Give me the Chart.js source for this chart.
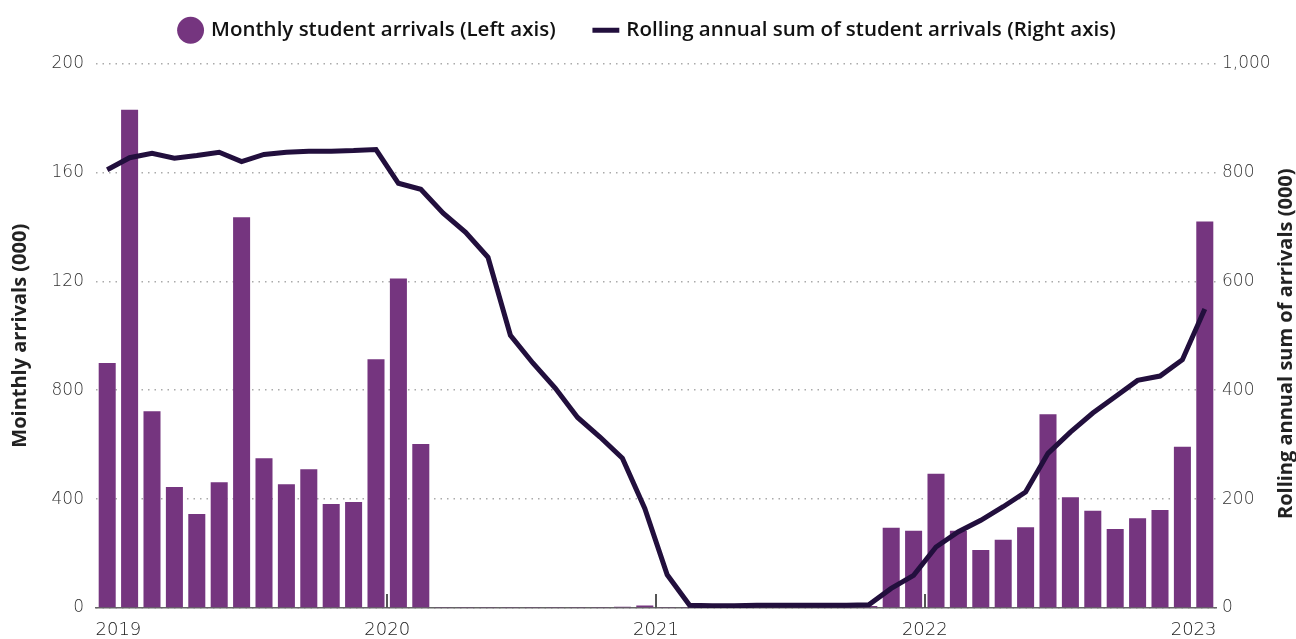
<!DOCTYPE html>
<html><head><meta charset="utf-8">
<script src="https://cdn.jsdelivr.net/npm/chart.js@4.4.0/dist/chart.umd.min.js"></script>
<style>html,body{margin:0;padding:0;background:#fff}#wrap{width:1296px;height:639px;position:relative}</style>
</head><body><div id="wrap"><canvas id="c"></canvas></div>
<script>
// Months (bars are centred in each month; year ticks sit on 1 January)
const months = [
  'Dec 2018',
  'Jan 2019','Feb 2019','Mar 2019','Apr 2019','May 2019','Jun 2019','Jul 2019','Aug 2019','Sep 2019','Oct 2019','Nov 2019','Dec 2019',
  'Jan 2020','Feb 2020','Mar 2020','Apr 2020','May 2020','Jun 2020','Jul 2020','Aug 2020','Sep 2020','Oct 2020','Nov 2020','Dec 2020',
  'Jan 2021','Feb 2021','Mar 2021','Apr 2021','May 2021','Jun 2021','Jul 2021','Aug 2021','Sep 2021','Oct 2021','Nov 2021','Dec 2021',
  'Jan 2022','Feb 2022','Mar 2022','Apr 2022','May 2022','Jun 2022','Jul 2022','Aug 2022','Sep 2022','Oct 2022','Nov 2022','Dec 2022',
  'Jan 2023'
];
// Monthly student arrivals (000), left axis
const monthlyArrivals = [
  90, 183, 72.3, 44.4, 34.5, 46.2, 143.5, 55, 45.5, 51, 38.2, 38.9,
  91.4, 121, 60.2,
  0.4, 0.4, 0.4, 0.4, 0.4, 0.4, 0.4, 0.4, 0.5, 0.9,
  0.4, 0.4, 0.4, 0.4, 0.4, 0.4, 0.4, 0.4, 0.5, 0.7,
  29.5, 28.4, 49.3, 28.4, 21.3, 25.1, 29.7, 71.2, 40.7, 35.7, 29.0, 33.0, 36.0, 59.2, 142.0
];
// Rolling annual sum of student arrivals (000), right axis
const rollingSum = [
  805, 827, 835, 826, 831, 837, 820, 833, 837, 839, 839, 840,
  842, 780, 769, 725, 690, 644, 501, 450, 404, 350, 314, 275,
  183, 61, 5, 4, 4, 5, 5, 5, 5, 5, 6, 36,
  60, 112, 140, 161, 186, 213, 284, 323, 358, 388, 418, 426,
  456, 549
];
// Year tick labels and their positions (between Dec and Jan)
const yearLabels = ['2019', '2020', '2021', '2022', '2023'];
const yearTickPos = [0.5, 12.5, 24.5, 36.5, 48.5];
const markedYears = ['2020', '2021', '2022'];
// Left axis tick labels, as printed in the original
const leftTickLabels = ['0', '400', '800', '120', '160', '200'];
const leftTickValues = [0, 40, 80, 120, 160, 200];
const rightTickValues = [0, 200, 400, 600, 800, 1000];

const barColor = '#75357f';
const lineColor = '#220f3d';
const tickFont = {family: 'DejaVu Sans', size: 17, weight: '300'};
const titleFontCss = '700 20px "Open Sans"';

const yearMarks = {
  id: 'yearMarks',
  afterDatasetsDraw(chart) {
    const x = chart.scales.x, ctx = chart.ctx, b = chart.chartArea.bottom;
    ctx.save();
    ctx.strokeStyle = '#555';
    ctx.lineWidth = 2;
    yearLabels.forEach((y, i) => {
      if (!markedYears.includes(y)) return;
      const px = Math.round(x.getPixelForValue(yearTickPos[i]));
      ctx.beginPath();
      ctx.moveTo(px, b);
      ctx.lineTo(px, b - 14);
      ctx.stroke();
    });
    ctx.restore();
  }
};
const rightTitle = {
  id: 'rightTitle',
  afterDraw(chart) {
    const ctx = chart.ctx, a = chart.chartArea;
    ctx.save();
    ctx.translate(chart.width - 10, (a.top + a.bottom) / 2 + 8);
    ctx.rotate(-Math.PI / 2);
    ctx.font = titleFontCss;
    ctx.fillStyle = '#222';
    ctx.textAlign = 'center';
    ctx.textBaseline = 'middle';
    ctx.fillText('Rolling annual sum of arrivals (000)', 0, 0);
    ctx.restore();
  }
};
const legendSpacer = {
  id: 'legendSpacer',
  beforeInit(chart) {
    const lg = chart.legend;
    if (!lg) return;
    const orig = lg.fit;
    lg.fit = function () { orig.call(this); this.height += 13; };
  }
};

new Chart(document.getElementById('c'), {
  type: 'bar',
  data: {
    datasets: [
      {
        type: 'bar',
        label: 'Monthly student arrivals (Left axis)',
        data: monthlyArrivals.map((v, i) => ({x: i, y: v})),
        backgroundColor: barColor,
        borderWidth: 0,
        barPercentage: 0.76,
        categoryPercentage: 1,
        yAxisID: 'y',
        order: 2,
        pointStyle: 'circle'
      },
      {
        type: 'line',
        label: 'Rolling annual sum of student arrivals (Right axis)',
        data: rollingSum.map((v, i) => ({x: i, y: v})),
        borderColor: lineColor,
        backgroundColor: lineColor,
        borderWidth: 5,
        pointRadius: 0,
        tension: 0,
        yAxisID: 'y1',
        order: 1,
        pointStyle: 'line'
      }
    ]
  },
  options: {
    responsive: true,
    maintainAspectRatio: false,
    animation: false,
    layout: {padding: {top: -20, right: 0, left: 0, bottom: 0}},
    plugins: {
      tooltip: {enabled: false},
      legend: {
        position: 'top',
        labels: {
          usePointStyle: true,
          boxHeight: 19,
          color: '#111',
          font: {family: 'Open Sans', size: 20.5, weight: '600'},
          padding: 40,
          sort: (a, b) => a.datasetIndex - b.datasetIndex
        }
      }
    },
    scales: {
      x: {
        type: 'linear',
        offset: false,
        min: -0.5,
        max: 49.5,
        afterBuildTicks: s => { s.ticks = yearTickPos.map(v => ({value: v})); },
        afterFit: s => { s.height = 31; },
        ticks: {
          autoSkip: false,
          maxRotation: 0,
          padding: 12,
          color: '#222',
          font: {family: 'DejaVu Sans', size: 18, weight: '300'},
          callback: (v, i) => yearLabels[i]
        },
        grid: {display: false, drawTicks: false, offset: false},
        border: {display: true, color: '#666', width: 1.5}
      },
      y: {
        position: 'left',
        min: 0,
        max: 200,
        afterBuildTicks: s => { s.ticks = leftTickValues.map(v => ({value: v})); },
        afterFit: s => { s.width = 96; },
        ticks: {
          padding: 12,
          color: '#333',
          font: tickFont,
          callback: (v, i) => leftTickLabels[i]
        },
        grid: {color: '#aaa', lineWidth: 1.5, drawTicks: false},
        border: {display: false, dash: [1.5, 5]},
        title: {
          display: true,
          text: 'Mointhly arrivals (000)',
          color: '#222',
          font: {family: 'Open Sans', size: 20, weight: '700'},
          padding: {top: 8, bottom: 0}
        }
      },
      y1: {
        position: 'right',
        min: 0,
        max: 1000,
        afterBuildTicks: s => { s.ticks = rightTickValues.map(v => ({value: v})); },
        afterFit: s => { s.width = 80; },
        ticks: {
          padding: 6,
          color: '#333',
          font: tickFont,
          callback: v => v.toLocaleString('en-US')
        },
        grid: {drawOnChartArea: false, drawTicks: false},
        border: {display: false}
      }
    }
  },
  plugins: [yearMarks, rightTitle, legendSpacer]
});
</script>
</body></html>
